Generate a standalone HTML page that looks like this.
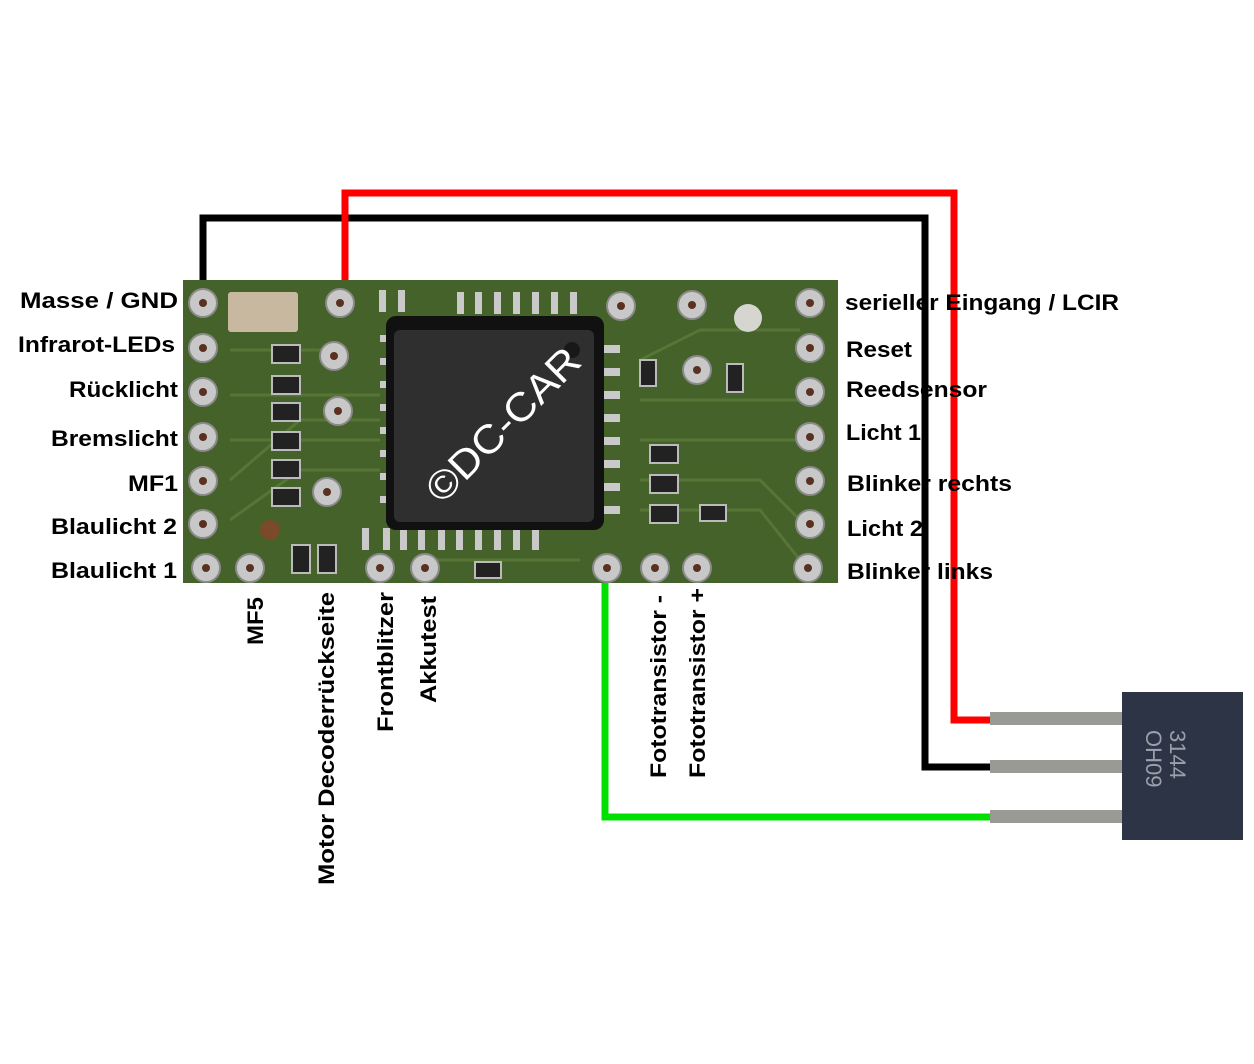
<!DOCTYPE html>
<html><head><meta charset="utf-8"><style>html,body{margin:0;padding:0;background:#fff}svg{display:block}</style></head>
<body>
<svg width="1254" height="1064" viewBox="0 0 1254 1064" xmlns="http://www.w3.org/2000/svg" font-family="'Liberation Sans', sans-serif" font-weight="bold" font-size="22">
<rect width="1254" height="1064" fill="#fff"/>
<!-- board -->
<rect x="183" y="280" width="655" height="303" fill="#44622a"/>
<g stroke="#5c7a3a" stroke-width="3" fill="none" opacity="0.8">
<path d="M230 350 L330 350 M230 395 L380 395 M230 440 L380 440 M230 480 L300 420 L380 420 M230 520 L300 470 L380 470 M640 360 L700 330 L800 330 M640 400 L800 400 M640 440 L800 440 M640 480 L760 480 L800 520 M640 510 L760 510 L800 560 M420 560 L580 560"/>
</g>
<!-- SMD parts -->
<rect x="228" y="292" width="70" height="40" rx="3" fill="#c8b8a0"/>
<g fill="#222" stroke="#bbb" stroke-width="2">
<rect x="272" y="345" width="28" height="18"/><rect x="272" y="376" width="28" height="18"/><rect x="272" y="403" width="28" height="18"/><rect x="272" y="432" width="28" height="18"/><rect x="272" y="460" width="28" height="18"/><rect x="272" y="488" width="28" height="18"/>
<rect x="292" y="545" width="18" height="28"/><rect x="318" y="545" width="18" height="28"/>
<rect x="545" y="415" width="28" height="18"/><rect x="650" y="445" width="28" height="18"/><rect x="650" y="475" width="28" height="18"/><rect x="650" y="505" width="28" height="18"/>
<rect x="640" y="360" width="16" height="26"/><rect x="727" y="364" width="16" height="28"/><rect x="475" y="562" width="26" height="16"/><rect x="700" y="505" width="26" height="16"/>
</g>
<!-- chip pins -->
<g fill="#c9c9c9">
<rect x="380" y="335" width="18" height="7"/><rect x="380" y="358" width="18" height="7"/><rect x="380" y="381" width="18" height="7"/><rect x="380" y="404" width="18" height="7"/><rect x="380" y="427" width="18" height="7"/><rect x="380" y="450" width="18" height="7"/><rect x="380" y="473" width="18" height="7"/><rect x="380" y="496" width="18" height="7"/>
<rect x="598" y="345" width="22" height="8"/><rect x="598" y="368" width="22" height="8"/><rect x="598" y="391" width="22" height="8"/><rect x="598" y="414" width="22" height="8"/><rect x="598" y="437" width="22" height="8"/><rect x="598" y="460" width="22" height="8"/><rect x="598" y="483" width="22" height="8"/><rect x="598" y="506" width="22" height="8"/>
<rect x="379" y="290" width="7" height="22"/><rect x="398" y="290" width="7" height="22"/>
<rect x="457" y="292" width="7" height="22"/><rect x="475" y="292" width="7" height="22"/><rect x="494" y="292" width="7" height="22"/><rect x="513" y="292" width="7" height="22"/><rect x="532" y="292" width="7" height="22"/><rect x="551" y="292" width="7" height="22"/><rect x="570" y="292" width="7" height="22"/>
<rect x="362" y="528" width="7" height="22"/><rect x="383" y="528" width="7" height="22"/><rect x="400" y="528" width="7" height="22"/><rect x="418" y="528" width="7" height="22"/><rect x="438" y="528" width="7" height="22"/><rect x="456" y="528" width="7" height="22"/><rect x="475" y="528" width="7" height="22"/><rect x="494" y="528" width="7" height="22"/><rect x="513" y="528" width="7" height="22"/><rect x="532" y="528" width="7" height="22"/>
</g>
<rect x="386" y="316" width="218" height="214" rx="10" fill="#111"/>
<rect x="394" y="330" width="200" height="192" rx="6" fill="#2f2f2f"/>
<circle cx="572" cy="350" r="8" fill="#181818"/>
<text transform="translate(442,505) rotate(-45)" fill="#fff" font-weight="normal" font-size="40" textLength="200" lengthAdjust="spacingAndGlyphs">©DC-CAR</text>
<!-- pads -->
<g fill="#c8c8c8" stroke="#8a8a8a" stroke-width="2">
<circle cx="203" cy="303" r="14"/><circle cx="203" cy="348" r="14"/><circle cx="203" cy="392" r="14"/><circle cx="203" cy="437" r="14"/><circle cx="203" cy="481" r="14"/><circle cx="203" cy="524" r="14"/><circle cx="206" cy="568" r="14"/>
<circle cx="810" cy="303" r="14"/><circle cx="810" cy="348" r="14"/><circle cx="810" cy="392" r="14"/><circle cx="810" cy="437" r="14"/><circle cx="810" cy="481" r="14"/><circle cx="810" cy="524" r="14"/><circle cx="808" cy="568" r="14"/>
<circle cx="340" cy="303" r="14"/><circle cx="334" cy="356" r="14"/><circle cx="338" cy="411" r="14"/><circle cx="327" cy="492" r="14"/>
<circle cx="621" cy="306" r="14"/><circle cx="692" cy="305" r="14"/><circle cx="697" cy="370" r="14"/>
<circle cx="250" cy="568" r="14"/><circle cx="380" cy="568" r="14"/><circle cx="425" cy="568" r="14"/><circle cx="607" cy="568" r="14"/><circle cx="655" cy="568" r="14"/><circle cx="697" cy="568" r="14"/>
</g>
<circle cx="748" cy="318" r="14" fill="#d6d6d0"/>
<circle cx="270" cy="530" r="10" fill="#7a4a2a"/>
<g fill="#5a3020"><circle cx="203" cy="303" r="4"/><circle cx="203" cy="348" r="4"/><circle cx="203" cy="392" r="4"/><circle cx="203" cy="437" r="4"/><circle cx="203" cy="481" r="4"/><circle cx="203" cy="524" r="4"/><circle cx="206" cy="568" r="4"/><circle cx="810" cy="303" r="4"/><circle cx="810" cy="348" r="4"/><circle cx="810" cy="392" r="4"/><circle cx="810" cy="437" r="4"/><circle cx="810" cy="481" r="4"/><circle cx="810" cy="524" r="4"/><circle cx="808" cy="568" r="4"/><circle cx="340" cy="303" r="4"/><circle cx="334" cy="356" r="4"/><circle cx="338" cy="411" r="4"/><circle cx="327" cy="492" r="4"/><circle cx="621" cy="306" r="4"/><circle cx="692" cy="305" r="4"/><circle cx="697" cy="370" r="4"/><circle cx="250" cy="568" r="4"/><circle cx="380" cy="568" r="4"/><circle cx="425" cy="568" r="4"/><circle cx="607" cy="568" r="4"/><circle cx="655" cy="568" r="4"/><circle cx="697" cy="568" r="4"/></g>
<!-- transistor -->
<g fill="#9a9a94"><rect x="990" y="712" width="135" height="13"/><rect x="990" y="760" width="135" height="13"/><rect x="990" y="810" width="135" height="13"/></g>
<rect x="1122" y="692" width="121" height="148" fill="#2c3446"/>
<text transform="translate(1170,730) rotate(90)" fill="#9aa0aa" font-size="22" font-weight="normal">3144</text>
<text transform="translate(1146,730) rotate(90)" fill="#9aa0aa" font-size="22" font-weight="normal">OH09</text>
<!-- wires -->
<g fill="none" stroke-width="7" stroke-linejoin="miter">
<path d="M203 280 V218 H925 V767 H990" stroke="#000"/>
<path d="M345 280 V193 H954 V720 H990" stroke="#f00"/>
<path d="M605 583 V817 H990" stroke="#00e000"/>
</g>
<!-- labels -->
<g fill="#000">
<text x="20" y="308" textLength="158" lengthAdjust="spacingAndGlyphs">Masse / GND</text>
<text x="18" y="352" textLength="157" lengthAdjust="spacingAndGlyphs">Infrarot-LEDs</text>
<text x="69" y="397" textLength="109" lengthAdjust="spacingAndGlyphs">Rücklicht</text>
<text x="51" y="446" textLength="127" lengthAdjust="spacingAndGlyphs">Bremslicht</text>
<text x="128" y="491" textLength="50" lengthAdjust="spacingAndGlyphs">MF1</text>
<text x="51" y="534" textLength="126" lengthAdjust="spacingAndGlyphs">Blaulicht 2</text>
<text x="51" y="578" textLength="126" lengthAdjust="spacingAndGlyphs">Blaulicht 1</text>
<text x="845" y="310" textLength="274" lengthAdjust="spacingAndGlyphs">serieller Eingang / LCIR</text>
<text x="846" y="357" textLength="66" lengthAdjust="spacingAndGlyphs">Reset</text>
<text x="846" y="397" textLength="141" lengthAdjust="spacingAndGlyphs">Reedsensor</text>
<text x="846" y="440" textLength="75" lengthAdjust="spacingAndGlyphs">Licht 1</text>
<text x="847" y="491" textLength="165" lengthAdjust="spacingAndGlyphs">Blinker rechts</text>
<text x="847" y="536" textLength="76" lengthAdjust="spacingAndGlyphs">Licht 2</text>
<text x="847" y="579" textLength="146" lengthAdjust="spacingAndGlyphs">Blinker links</text>
<text transform="translate(263,645) rotate(-90)" textLength="48" lengthAdjust="spacingAndGlyphs">MF5</text>
<text transform="translate(334,885) rotate(-90)" textLength="293" lengthAdjust="spacingAndGlyphs">Motor Decoderrückseite</text>
<text transform="translate(393,732) rotate(-90)" textLength="140" lengthAdjust="spacingAndGlyphs">Frontblitzer</text>
<text transform="translate(436,703) rotate(-90)" textLength="107" lengthAdjust="spacingAndGlyphs">Akkutest</text>
<text transform="translate(666,778) rotate(-90)" textLength="183" lengthAdjust="spacingAndGlyphs">Fototransistor -</text>
<text transform="translate(705,778) rotate(-90)" textLength="190" lengthAdjust="spacingAndGlyphs">Fototransistor +</text>
</g>
</svg>
</body></html>
